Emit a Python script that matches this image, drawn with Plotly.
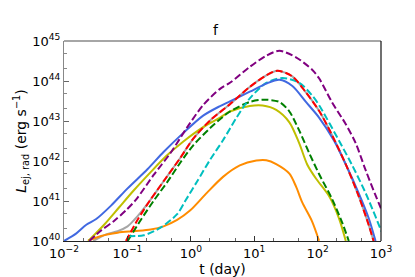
import numpy as np
import plotly.graph_objects as go

# log10(t [day]) and log10(L [erg/s])
blue_logt = [-2.000, -1.805, -1.648, -1.492, -1.258, -0.997, -0.684, -0.430, -0.117, 0.195, 0.461, 0.617, 0.930, 1.191, 1.398, 1.602, 1.816, 2.023, 2.258, 2.445, 2.648, 2.805, 2.914]
blue_logL = [40.0, 40.191, 40.407, 40.550, 40.885, 41.316, 41.794, 42.225, 42.703, 43.134, 43.373, 43.493, 43.732, 43.935, 44.031, 43.876, 43.476, 43.086, 42.512, 41.914, 41.196, 40.574, 40.0]

purple_logt = [-1.602, -1.414, -1.211, -1.023, -0.867, -0.586, -0.320, -0.055, 0.195, 0.461, 0.617, 0.930, 1.191, 1.398, 1.659, 1.914, 2.023, 2.227, 2.445, 2.602, 2.758, 2.961, 3.039]
purple_logL = [40.0, 40.263, 40.502, 40.766, 41.029, 41.651, 42.201, 42.847, 43.397, 43.804, 43.955, 44.354, 44.634, 44.754, 44.593, 44.282, 44.067, 43.469, 42.919, 42.440, 41.770, 40.957, 40.670]

red_logt = [-1.023, -0.841, -0.648, -0.398, -0.164, 0.039, 0.305, 0.617, 0.930, 1.191, 1.367, 1.602, 1.816, 2.023, 2.180, 2.445, 2.648, 2.805, 2.883]
red_logL = [40.0, 40.526, 41.005, 41.562, 42.081, 42.560, 43.014, 43.421, 43.852, 44.139, 44.258, 44.115, 43.715, 43.254, 42.799, 41.914, 41.124, 40.407, 40.0]

gray_logt = [-1.539, -1.336, -1.153, -0.997, -0.894, -0.789, -0.648, -0.398, -0.164, 0.039, 0.305, 0.617, 0.930, 1.191, 1.367, 1.602, 1.816, 2.023, 2.180, 2.445, 2.648, 2.805, 2.883]
gray_logL = [40.0, 40.167, 40.246, 40.366, 40.526, 40.718, 41.005, 41.562, 42.081, 42.560, 43.014, 43.421, 43.852, 44.139, 44.258, 44.115, 43.715, 43.254, 42.799, 41.914, 41.124, 40.407, 40.0]

cyan_logt = [-0.992, -0.742, -0.477, -0.216, -0.086, 0.097, 0.305, 0.508, 0.722, 0.930, 1.191, 1.445, 1.711, 1.914, 2.023, 2.336, 2.539, 2.758, 3.008]
cyan_logL = [40.120, 40.144, 40.335, 40.670, 41.005, 41.483, 42.033, 42.519, 43.086, 43.565, 43.955, 44.074, 43.955, 43.636, 43.397, 42.512, 41.914, 41.196, 40.239]

orange_logt = [-1.622, -1.414, -1.153, -0.894, -0.633, -0.430, -0.216, -0.008, 0.253, 0.508, 0.773, 1.034, 1.191, 1.347, 1.555, 1.659, 1.758, 1.914, 2.023]
orange_logL = [40.007, 40.127, 40.208, 40.246, 40.287, 40.366, 40.526, 40.766, 41.203, 41.603, 41.890, 42.010, 42.017, 41.921, 41.682, 41.364, 40.964, 40.486, 40.007]

yellow_logt = [-1.617, -1.367, -1.133, -0.898, -0.633, -0.383, -0.117, 0.195, 0.461, 0.617, 0.930, 1.133, 1.347, 1.555, 1.711, 1.836, 1.977, 2.180, 2.336, 2.445]
yellow_logL = [40.0, 40.407, 40.837, 41.268, 41.722, 42.129, 42.488, 42.847, 43.086, 43.237, 43.373, 43.385, 43.278, 42.967, 42.440, 41.914, 41.555, 41.124, 40.574, 40.0]

green_logt = [-0.997, -0.789, -0.586, -0.367, -0.164, 0.039, 0.305, 0.617, 0.930, 1.133, 1.398, 1.555, 1.711, 1.867, 2.023, 2.227, 2.383, 2.492]
green_logL = [40.0, 40.526, 41.005, 41.483, 41.962, 42.392, 42.823, 43.237, 43.476, 43.533, 43.476, 43.237, 42.758, 42.201, 41.675, 41.053, 40.478, 40.0]

x_tickvals = [1e-2, 1e-1, 1e0, 1e1, 1e2, 1e3]
x_ticktext = ["10<sup>−2</sup>", "10<sup>−1</sup>", "10<sup>0</sup>", "10<sup>1</sup>", "10<sup>2</sup>", "10<sup>3</sup>"]
y_tickvals = [1e40, 1e41, 1e42, 1e43, 1e44, 1e45]
y_ticktext = ["10<sup>40</sup>", "10<sup>41</sup>", "10<sup>42</sup>", "10<sup>43</sup>", "10<sup>44</sup>", "10<sup>45</sup>"]

series = [
    (gray_logt, gray_logL, "#a6a6a6", "solid"),
    (orange_logt, orange_logL, "#ff8c00", "solid"),
    (yellow_logt, yellow_logL, "#bfbf00", "solid"),
    (green_logt, green_logL, "#008000", "7px,3px"),
    (cyan_logt, cyan_logL, "#00bfbf", "7px,3px"),
    (blue_logt, blue_logL, "#4169e1", "solid"),
    (red_logt, red_logL, "#ff0000", "7px,3px"),
    (purple_logt, purple_logL, "#800080", "7px,3px"),
]

fig = go.Figure()
for lt, lL, col, dash in series:
    fig.add_trace(go.Scatter(
        x=10 ** np.array(lt), y=10 ** np.array(lL), mode="lines",
        line=dict(color=col, width=2, dash=dash, shape="spline", smoothing=0.8),
        showlegend=False, hoverinfo="skip"))

fig.update_layout(
    width=415, height=277,
    margin=dict(l=52, r=42, t=33, b=35),
    paper_bgcolor="white", plot_bgcolor="white",
    font=dict(family="DejaVu Sans", size=13, color="black"),
    title=dict(text="f", x=0.5, xanchor="center", y=1 - 22 / 277, yanchor="middle",
               font=dict(family="DejaVu Sans", size=14, color="black")),
    showlegend=False,
)
fig.update_xaxes(
    type="log", range=[-2, 3], tickvals=x_tickvals, ticktext=x_ticktext,
    ticks="inside", ticklen=5, tickcolor="#333333", showgrid=False, zeroline=False,
    showline=True, linecolor="#222222", linewidth=1.2,
    minor=dict(ticks="inside", ticklen=2.5, tickcolor="#666666", showgrid=False),
    tickfont=dict(family="DejaVu Sans", size=13, color="black"),
    title=dict(text="t (day)", font=dict(family="DejaVu Sans", size=14, color="black"), standoff=2),
)
fig.update_yaxes(
    type="log", range=[40, 45], tickvals=y_tickvals, ticktext=y_ticktext,
    ticks="inside", ticklen=5, tickcolor="#666666", showgrid=False, zeroline=False,
    showline=True, linecolor="#888888", linewidth=1.2,
    minor=dict(ticks="inside", ticklen=2.5, tickcolor="#888888", showgrid=False),
    tickfont=dict(family="DejaVu Sans", size=13, color="black"),
    title=dict(text="<i>L</i><sub>ej, rad</sub> (erg s<sup>−1</sup>)",
               font=dict(family="DejaVu Sans", size=14, color="black"), standoff=2),
)
fig.add_shape(type="line", xref="paper", yref="paper", x0=0, x1=1, y0=1, y1=1,
              line=dict(color="#888888", width=1.5))
fig.add_shape(type="line", xref="paper", yref="paper", x0=1, x1=1, y0=0, y1=1,
              line=dict(color="#111111", width=1.2))

fig.write_html("out.html")
